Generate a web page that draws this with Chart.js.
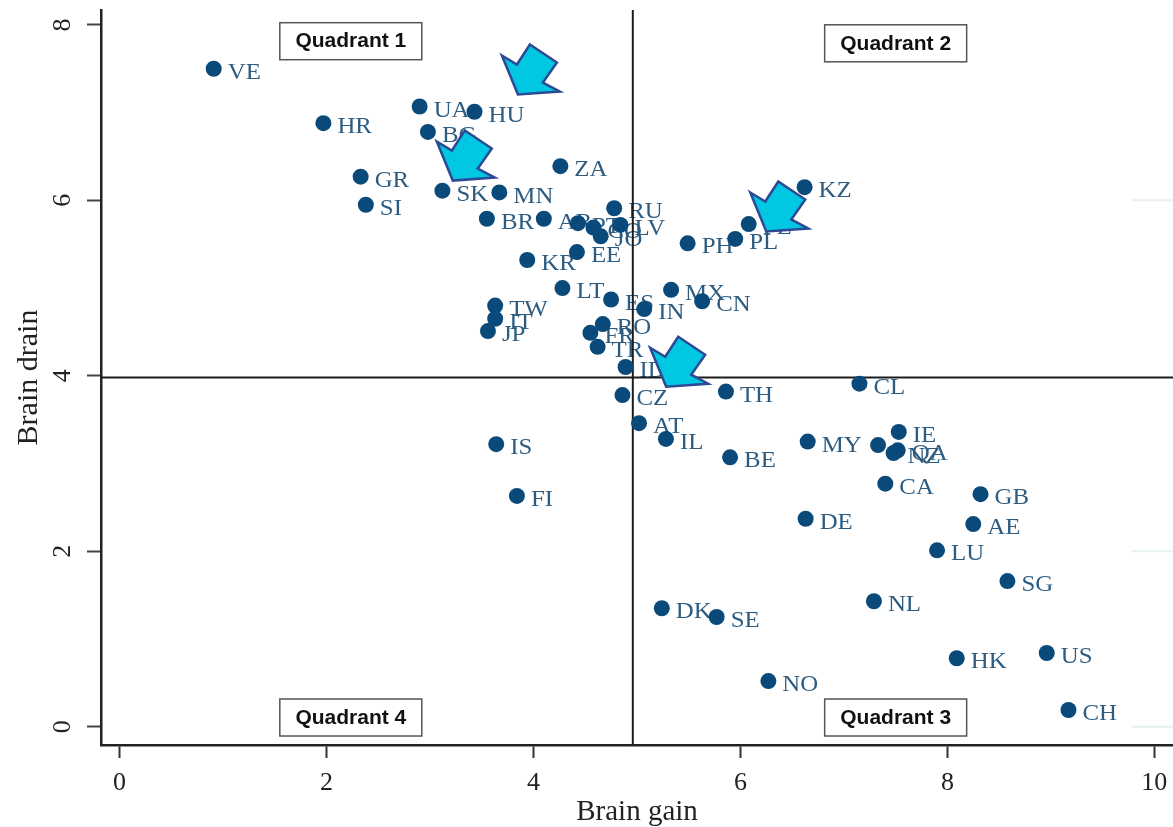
<!DOCTYPE html>
<html>
<head>
<meta charset="utf-8">
<title>Brain gain and brain drain</title>
<script src="https://cdn.jsdelivr.net/npm/chart.js@4"></script>
<style>
  html, body { margin: 0; padding: 0; background: #fff; }
  canvas { display: block; filter: blur(0.4px); }
</style>
</head>
<body>
<canvas id="chartBrain" width="1173" height="827"></canvas>
<script>
const countries = ["VE", "HR", "UA", "HU", "BG", "GR", "SI", "SK", "MN", "ZA", "BR", "AR", "PT", "CO", "JO", "LV", "RU",
  "PH", "PL", "PE", "KZ", "KR", "EE", "LT", "ES", "MX", "CN", "IN", "TW", "IT", "JP", "RO", "FR", "TR", "ID",
  "CZ", "TH", "CL", "AT", "IL", "IS", "BE", "MY", "", "IE", "QA", "NZ", "CA", "GB", "FI", "AE", "DE", "LU", "SG",
  "NL", "DK", "SE", "HK", "US", "NO", "CH"];
const brainGain = [0.91, 1.97, 2.90, 3.43, 2.98, 2.33, 2.38, 3.12, 3.67, 4.26, 3.55, 4.10, 4.43, 4.58, 4.65, 4.84, 4.78,
  5.49, 5.95, 6.08, 6.62, 3.94, 4.42, 4.28, 4.75, 5.33, 5.63, 5.07, 3.63, 3.63, 3.56, 4.67, 4.55, 4.62, 4.89,
  4.86, 5.86, 7.15, 5.02, 5.28, 3.64, 5.90, 6.65, 7.33, 7.53, 7.52, 7.48, 7.40, 8.32, 3.84, 8.25, 6.63, 7.90, 8.58,
  7.29, 5.24, 5.77, 8.09, 8.96, 6.27, 9.17];
const brainDrain = [7.50, 6.88, 7.07, 7.01, 6.78, 6.27, 5.95, 6.11, 6.09, 6.39, 5.79, 5.79, 5.74, 5.69, 5.59, 5.72, 5.91,
  5.51, 5.56, 5.73, 6.15, 5.32, 5.41, 5.00, 4.87, 4.98, 4.85, 4.76, 4.80, 4.65, 4.51, 4.59, 4.49, 4.33, 4.10,
  3.78, 3.82, 3.91, 3.46, 3.28, 3.22, 3.07, 3.25, 3.21, 3.36, 3.15, 3.12, 2.77, 2.65, 2.63, 2.31, 2.37, 2.01, 1.66,
  1.43, 1.35, 1.25, 0.78, 0.84, 0.52, 0.19];

const xTicks = [0, 2, 4, 6, 8, 10];
const yTicks = [0, 2, 4, 6, 8];
const xRange = [-0.179, 10.18];
const yRange = [-0.209, 8.17];

// quadrant split lines
const splitX = 4.96;
const splitY = 3.98;

// pale leftovers of gridlines at the right edge of the scan
const paleY = [6, 2, 0];
const paleStartX = 9.78;

const quadrantNames = ["Quadrant 1", "Quadrant 2", "Quadrant 3", "Quadrant 4"];
const quadrantX = [2.235, 7.5, 7.5, 2.235];
const quadrantY = [7.82, 7.796, 0.11, 0.11];

const arrowTipX = [3.695, 3.066, 5.128, 6.095];
const arrowTipY = [7.651, 6.67, 4.32, 6.09];

const dotColor = '#0a4a7a';
const labelColor = '#2d5c80';
const lineColor = '#1c1c1c';

const serif = '"Liberation Serif", serif';

// arrow outline relative to its tip, in pixels
const arrowShape = [[0, 0], [15, 9], [28, -11], [55, 7], [41, 27], [58, 36], [16, 39]];

const pointLabels = {
  id: 'pointLabels',
  beforeDatasetsDraw(chart) {
    const ctx = chart.ctx;
    const sx = chart.scales.x, sy = chart.scales.y;
    ctx.save();
    ctx.font = '23px ' + serif;
    ctx.fillStyle = labelColor;
    ctx.textAlign = 'left';
    ctx.textBaseline = 'middle';
    countries.forEach(function(name, i) {
      ctx.save();
      ctx.translate(sx.getPixelForValue(brainGain[i]) + 14, sy.getPixelForValue(brainDrain[i]) + 4);
      ctx.scale(1.08, 1);
      ctx.fillText(name, 0, 0);
      ctx.restore();
    });
    ctx.restore();
  }
};

const overlays = {
  id: 'overlays',
  afterDatasetsDraw(chart) {
    const ctx = chart.ctx;
    const sx = chart.scales.x, sy = chart.scales.y;
    ctx.save();

    quadrantNames.forEach(function(name, i) {
      const cx = sx.getPixelForValue(quadrantX[i]);
      const cy = sy.getPixelForValue(quadrantY[i]);
      ctx.fillStyle = '#fff';
      ctx.strokeStyle = '#555';
      ctx.lineWidth = 1.5;
      ctx.fillRect(cx - 71, cy - 18, 142, 37);
      ctx.strokeRect(cx - 71, cy - 18, 142, 37);
      ctx.fillStyle = '#111';
      ctx.font = 'bold 21px "Liberation Sans", sans-serif';
      ctx.textAlign = 'center';
      ctx.textBaseline = 'middle';
      ctx.fillText(name, cx, cy + 1);
    });

    arrowTipX.forEach(function(tx, i) {
      const px = sx.getPixelForValue(tx);
      const py = sy.getPixelForValue(arrowTipY[i]);
      ctx.beginPath();
      arrowShape.forEach(function(p, k) {
        if (k === 0) ctx.moveTo(px + p[0], py + p[1]);
        else ctx.lineTo(px + p[0], py + p[1]);
      });
      ctx.closePath();
      ctx.fillStyle = '#00c8e2';
      ctx.strokeStyle = '#2c4a94';
      ctx.lineWidth = 2.5;
      ctx.lineJoin = 'miter';
      ctx.fill();
      ctx.stroke();
    });
    ctx.restore();
  }
};

const datasets = [
  {
    label: 'Countries',
    data: brainGain.map((v, i) => ({ x: v, y: brainDrain[i] })),
    backgroundColor: dotColor,
    borderColor: dotColor,
    pointRadius: 8,
    pointBorderWidth: 0
  },
  {
    label: 'Split x',
    data: [{ x: splitX, y: yRange[0] }, { x: splitX, y: yRange[1] }],
    showLine: true,
    pointRadius: 0,
    borderColor: lineColor,
    borderWidth: 2
  },
  {
    label: 'Split y',
    data: [{ x: xRange[0], y: splitY }, { x: xRange[1], y: splitY }],
    showLine: true,
    pointRadius: 0,
    borderColor: lineColor,
    borderWidth: 2
  }
];

paleY.forEach(function(v) {
  datasets.push({
    label: 'Pale ' + v,
    data: [{ x: paleStartX, y: v }, { x: xRange[1], y: v }],
    showLine: true,
    pointRadius: 0,
    borderColor: '#e6f1ee',
    borderWidth: 2
  });
});

const config = {
  type: 'scatter',
  data: { datasets: datasets },
  plugins: [pointLabels, overlays],
  options: {
    responsive: false,
    animation: false,
    layout: { autoPadding: false, padding: { top: 10, right: 0, left: 0, bottom: 0 } },
    plugins: {
      legend: { display: false },
      title: { display: false },
      tooltip: { enabled: false }
    },
    scales: {
      x: {
        type: 'linear',
        min: xRange[0],
        max: xRange[1],
        afterBuildTicks: function(scale) { scale.ticks = xTicks.map(v => ({ value: v })); },
        afterFit: function(scale) {
          scale.height = 82;
          scale.paddingLeft = 0;
          scale.paddingRight = 0;
        },
        border: { color: '#222', width: 2.5 },
        grid: { drawOnChartArea: false, tickLength: 13, tickColor: '#333', tickWidth: 2 },
        ticks: {
          color: '#222',
          font: { family: serif, size: 26 },
          padding: 10,
          maxRotation: 0,
          autoSkip: false
        },
        title: {
          display: true,
          text: 'Brain gain',
          color: '#222',
          font: { family: serif, size: 29, lineHeight: 1 },
          padding: { top: 0, bottom: 0 }
        }
      },
      y: {
        type: 'linear',
        min: yRange[0],
        max: yRange[1],
        afterBuildTicks: function(scale) { scale.ticks = yTicks.map(v => ({ value: v })); },
        afterFit: function(scale) {
          scale.width = 101;
          scale.paddingTop = 0;
          scale.paddingBottom = 0;
        },
        border: { color: '#222', width: 2.5 },
        grid: { drawOnChartArea: false, tickLength: 14, tickColor: '#444', tickWidth: 2 },
        ticks: {
          color: '#222',
          font: { family: serif, size: 26 },
          padding: 17,
          minRotation: 90,
          maxRotation: 90,
          crossAlign: 'center',
          autoSkip: false
        },
        title: {
          display: true,
          text: 'Brain drain',
          color: '#222',
          font: { family: serif, size: 30 },
          padding: { top: 11, bottom: 0 }
        }
      }
    }
  }
};

var ctx = document.getElementById('chartBrain').getContext('2d');
var brainChart = new Chart(ctx, config);
</script>
</body>
</html>
